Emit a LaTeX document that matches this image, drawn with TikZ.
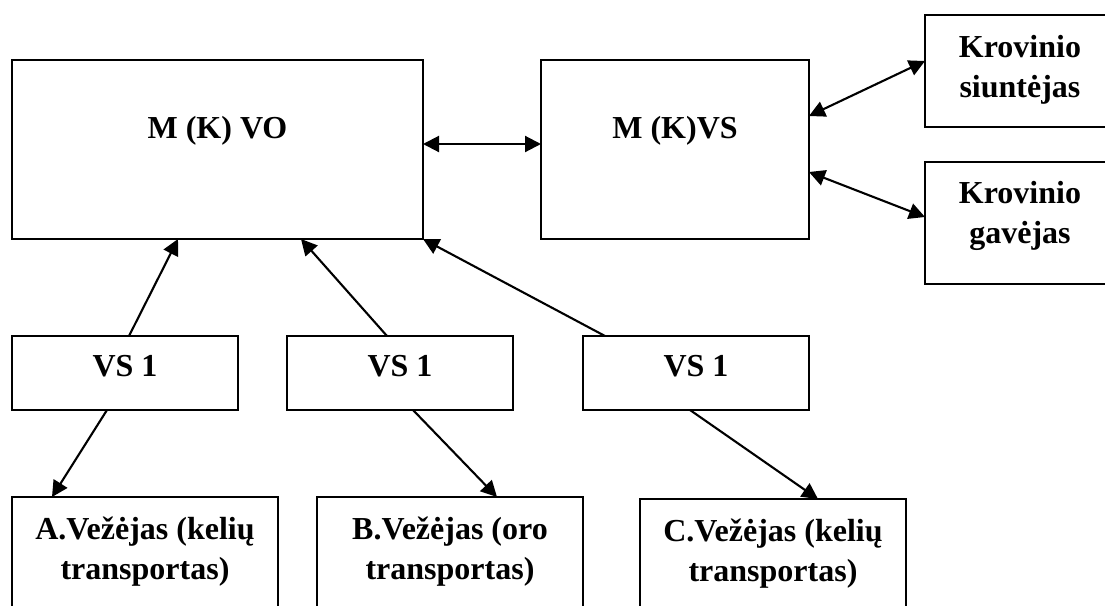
\documentclass[tikz,border=0pt]{standalone}
\usepackage{fontspec}
\setmainfont{Liberation Serif}
\usetikzlibrary{arrows.meta,calc,fit}
\begin{document}
\begin{tikzpicture}[x=0.5pt,y=-0.5pt,
  box/.style={draw, line width=0.85pt, inner sep=0pt, outer sep=0pt},
  lbl/.style={font=\fontsize{16}{20}\selectfont\bfseries, inner sep=0pt, anchor=base},
  conn/.style={line width=1.05pt, -{Triangle[length=8pt,width=8pt]}},
  dconn/.style={line width=1.05pt, {Triangle[length=8pt,width=8pt]}-{Triangle[length=8pt,width=8pt]}}]

\useasboundingbox (0,0) rectangle (1105,606);
\fill[white] (0,0) rectangle (1105,606);

% boxes
\node[box, fit={(12,60) (423,239)}] (mkvo) {};
\node[box, fit={(541,60) (809,239)}] (mkvs) {};
\node[box, fit={(925,15) (1115,127)}] (ks) {};
\node[box, fit={(925,162) (1115,284)}] (kg) {};
\node[box, fit={(12,336) (238,410)}] (vsa) {};
\node[box, fit={(287,336) (513,410)}] (vsb) {};
\node[box, fit={(583,336) (809,410)}] (vsc) {};
\node[box, fit={(12,497) (278,625)}] (va) {};
\node[box, fit={(317,497) (583,625)}] (vb) {};
\node[box, fit={(640,499) (906,625)}] (vc) {};

% texts
\node[lbl] (mkvo-t) at (217.5,138) {M (K) VO};
\node[lbl] (mkvs-t) at (675,138) {M (K)VS};
\node[lbl] (ks-t) at (1020,57) {\begin{tabular}[t]{@{}c@{}}Krovinio\\siuntėjas\end{tabular}};
\node[lbl] (kg-t) at (1020,203) {\begin{tabular}[t]{@{}c@{}}Krovinio\\gavėjas\end{tabular}};
\node[lbl] (vsa-t) at (125,376) {VS 1};
\node[lbl] (vsb-t) at (400,376) {VS 1};
\node[lbl] (vsc-t) at (696,376) {VS 1};
\node[lbl] (va-t) at (145,539) {\begin{tabular}[t]{@{}c@{}}A.Vežėjas (kelių\\transportas)\end{tabular}};
\node[lbl] (vb-t) at (450,539) {\begin{tabular}[t]{@{}c@{}}B.Vežėjas (oro\\transportas)\end{tabular}};
\node[lbl] (vc-t) at (773,541) {\begin{tabular}[t]{@{}c@{}}C.Vežėjas (kelių\\transportas)\end{tabular}};

% connectors
\draw[conn] ($(vsa.north west)+(117,0)$) -- ($(mkvo.south west)+(166,0)$);
\draw[conn] ($(vsb.north west)+(100,0)$) -- ($(mkvo.south west)+(289,0)$);
\draw[conn] ($(vsc.north west)+(22,0)$) -- (mkvo.south east);
\draw[dconn] ($(mkvo.north east)+(0,84)$) -- ($(mkvs.north west)+(0,84)$);
\draw[dconn] ($(mkvs.north east)+(0,56)$) -- ($(ks.north west)+(0,46)$);
\draw[dconn] ($(mkvs.north east)+(0,112)$) -- ($(kg.north west)+(0,55)$);
\draw[conn] ($(vsa.south west)+(95,0)$) -- ($(va.north west)+(40,0)$);
\draw[conn] ($(vsb.south west)+(126,0)$) -- ($(vb.north west)+(180,0)$);
\draw[conn] ($(vsc.south west)+(107,0)$) -- ($(vc.north west)+(178,0)$);
\end{tikzpicture}
\end{document}
